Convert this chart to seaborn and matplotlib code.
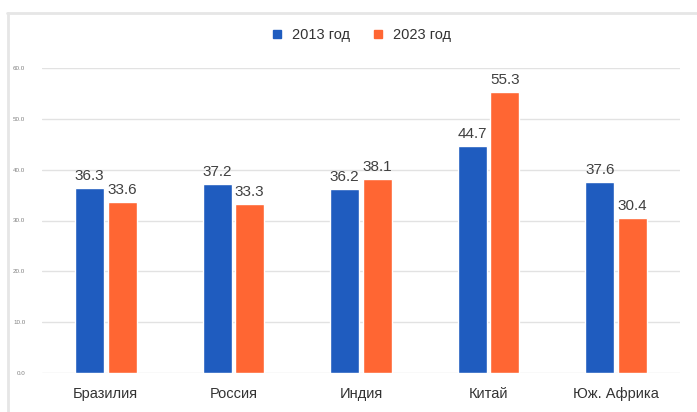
import matplotlib
matplotlib.use("Agg")
import matplotlib.pyplot as plt
import seaborn as sns
import pandas as pd
from matplotlib.lines import Line2D

countries = ["Бразилия", "Россия", "Индия", "Китай", "Юж. Африка"]
years = ["2013 год", "2023 год"]
values_2013 = [36.3, 37.2, 36.2, 44.7, 37.6]
values_2023 = [33.6, 33.3, 38.1, 55.3, 30.4]
yticks = [0, 10, 20, 30, 40, 50, 60]
ytick_labels = ["0.0", "10.0", "20.0", "30.0", "40.0", "50.0", "60.0"]

colors = ["#1f5cbf", "#ff6633"]

df = pd.DataFrame({
    "country": countries * 2,
    "year": [years[0]] * len(countries) + [years[1]] * len(countries),
    "value": values_2013 + values_2023,
})

sns.set_style("white")
plt.rcParams["font.family"] = ["Liberation Sans", "DejaVu Sans"]

fig = plt.figure(figsize=(6.97, 4.12), dpi=100)
ax = fig.add_axes([42 / 697, 39 / 412, 638 / 697, 305 / 412])

sns.barplot(data=df, x="country", y="value", hue="year", palette=colors,
            width=0.51, gap=0.11, ax=ax, legend=False, saturation=1)

for cont in ax.containers:
    for bar in cont:
        h = bar.get_height()
        ax.text(bar.get_x() + bar.get_width() / 2, h + 1.0, f"{h:.1f}",
                ha="center", va="bottom", fontsize=11, color="#404040")

ax.set_ylim(0, 60)
ax.set_xlim(-0.5, 4.5)
ax.set_yticks(yticks)
ax.set_yticklabels(ytick_labels, fontsize=4.5, color="#808080")
ax.tick_params(axis="y", length=0, pad=12)
ax.tick_params(axis="x", length=0, pad=10, labelsize=10.5, labelcolor="#333333")
ax.grid(axis="y", color="#e2e2e2", linewidth=1)
ax.set_axisbelow(True)
for s in ax.spines.values():
    s.set_visible(False)
ax.set_xlabel("")
ax.set_ylabel("")

handles = [Line2D([0], [0], marker="s", linestyle="", markersize=6,
                  markerfacecolor=c, markeredgecolor=c) for c in colors]
fig.legend(handles, years, loc="center", bbox_to_anchor=(357 / 697, 1 - 35 / 412),
           ncol=2, frameon=False, fontsize=10.5, handletextpad=0.05,
           columnspacing=0.9, labelcolor="#333333")

# light frame around the chart
fig.add_artist(Line2D([7 / 697, 1], [1 - 13 / 412, 1 - 13 / 412],
                      transform=fig.transFigure, color="#e6e6e6", linewidth=2))
fig.add_artist(Line2D([8 / 697, 8 / 697], [0, 1 - 13 / 412],
                      transform=fig.transFigure, color="#e6e6e6", linewidth=2))

fig.savefig("out.png", dpi=100)
